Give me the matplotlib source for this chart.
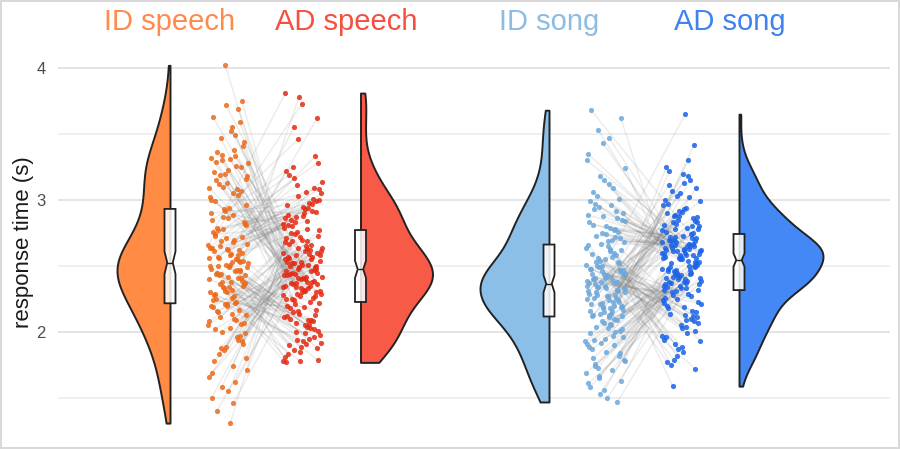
import numpy as np
import matplotlib
matplotlib.use('Agg')
import matplotlib.pyplot as plt

plt.rcParams['font.family'] = ['Liberation Sans', 'DejaVu Sans']

# response times (s), one value per participant; ID[i] is paired with AD[i]
id_speech = [
    2.05, 1.74, 2.16, 1.93, 2.20, 1.50, 2.09, 1.88, 2.13, 1.31,
    2.02, 1.97, 2.21, 1.66, 2.10, 1.83, 2.07, 1.55, 2.19, 1.94,
    2.00, 1.71, 2.14, 1.40, 2.06, 1.89, 2.20, 1.62, 2.11, 1.99,
    2.03, 1.78, 2.17, 1.86, 2.08, 1.46, 2.15, 1.91, 2.21, 1.69,
    1.96, 1.58, 1.80,
    2.38, 2.25, 2.47, 2.31, 2.50, 2.22, 2.43, 2.36, 2.49, 2.28,
    2.41, 2.34, 2.52, 2.26, 2.45, 2.39, 2.30, 2.48, 2.23, 2.44,
    2.37, 2.51, 2.29, 2.46, 2.33, 2.40, 2.27, 2.50, 2.35, 2.42,
    2.24, 2.47, 2.38, 2.49, 2.32, 2.44, 2.41, 2.51, 2.30, 2.46,
    2.36, 2.43, 2.34,
    2.61, 2.54, 2.78, 2.66, 2.89, 2.57, 2.72, 2.63, 2.85, 2.55,
    2.69, 2.81, 2.59, 2.74, 2.53, 2.92, 2.64, 2.70, 2.56, 2.83,
    2.62, 2.76, 2.58, 2.87, 2.67, 2.53, 2.79, 2.60, 2.71, 2.90,
    2.55, 2.65, 2.82, 2.58, 2.73, 2.62, 2.93, 2.56, 2.68, 2.77,
    2.54, 2.86, 2.64,
    3.08, 3.30, 2.96, 3.52, 3.15, 3.25, 4.02, 3.02, 3.33, 3.19,
    3.44, 2.94, 3.21, 3.69, 3.10, 3.28, 3.05, 3.36, 3.75, 3.13,
    3.00, 3.26, 3.47, 3.16, 3.31, 2.99, 3.59, 3.20, 3.09, 3.38,
    3.12, 3.41, 3.23, 3.63, 3.04, 3.34, 3.18, 3.55, 3.29, 3.07,
    3.72, 3.32, 3.49,
]
ad_speech = [
    2.52, 2.68, 2.49, 2.61, 2.74, 2.55, 2.48, 2.65, 2.58, 2.71,
    2.50, 2.63, 2.76, 2.53, 2.60, 2.69, 2.48, 2.57, 2.73, 2.51,
    2.64, 2.56, 2.77, 2.59, 2.49, 2.67, 2.54, 2.62, 2.72, 2.50,
    2.58, 2.66, 2.53, 2.75, 2.61, 2.55, 2.70, 2.52, 2.64, 2.57,
    2.51, 2.69, 2.60,
    2.08, 1.93, 2.15, 1.78, 2.02, 2.19, 1.86, 2.11, 1.96, 2.05,
    2.21, 1.81, 2.13, 1.99, 2.00, 1.77, 2.17, 1.91, 2.07, 2.12,
    1.88, 2.04, 1.94, 2.20, 1.79, 2.09, 2.16, 1.83, 2.01, 1.95,
    2.14, 1.90, 2.22, 2.06, 1.85, 2.18, 1.98, 2.03, 1.78, 2.10,
    1.92, 2.09, 1.89,
    2.85, 3.05, 2.92, 3.73, 2.80, 3.14, 2.97, 2.88, 3.25, 2.82,
    3.01, 2.95, 3.55, 2.79, 3.09, 2.90, 3.17, 2.86, 3.33, 2.93,
    2.83, 3.81, 2.99, 3.06, 2.87, 3.22, 2.91, 2.78, 3.11, 2.96,
    3.62, 2.84, 3.03, 2.89, 3.28, 2.94, 3.46, 2.81, 3.08, 2.98,
    3.78, 3.19, 3.00,
    2.35, 2.27, 2.44, 2.31, 2.23, 2.40, 2.37, 2.29, 2.46, 2.33,
    2.25, 2.42, 2.38, 2.30, 2.45, 2.34, 2.26, 2.41, 2.36, 2.28,
    2.47, 2.32, 2.24, 2.43, 2.39, 2.31, 2.44, 2.35, 2.27, 2.40,
    2.37, 2.46, 2.30, 2.42, 2.34, 2.25, 2.45, 2.38, 2.29, 2.43,
    2.36, 2.33, 2.41,
]
id_song = [
    1.93, 2.06, 1.74, 2.01, 1.56, 1.89, 2.10, 1.67, 1.96, 2.03,
    1.80, 1.47, 2.08, 1.91, 1.71, 2.04, 1.63, 1.85, 1.99, 2.00,
    1.53, 1.78, 2.11, 1.94, 1.82, 2.07, 1.61, 1.97, 1.73, 2.02,
    1.50, 1.87, 2.09, 1.92, 1.69, 2.05, 1.76, 1.84, 1.95, 1.58,
    1.90, 1.65, 1.79,
    2.24, 2.13, 2.31, 2.19, 2.35, 2.16, 2.28, 2.12, 2.33, 2.21,
    2.26, 2.14, 2.30, 2.18, 2.36, 2.23, 2.15, 2.29, 2.20, 2.34,
    2.17, 2.27, 2.12, 2.32, 2.22, 2.25, 2.14, 2.30, 2.19, 2.35,
    2.16, 2.28, 2.21, 2.33, 2.13, 2.26, 2.24, 2.18, 2.31, 2.23,
    2.34, 2.20, 2.27,
    2.44, 2.58, 2.38, 2.51, 2.63, 2.41, 2.47, 2.55, 2.37, 2.60,
    2.49, 2.43, 2.65, 2.40, 2.53, 2.46, 2.39, 2.57, 2.50, 2.62,
    2.42, 2.48, 2.37, 2.54, 2.45, 2.61, 2.40, 2.52, 2.44, 2.66,
    2.39, 2.56, 2.47, 2.43, 2.59, 2.38, 2.50, 2.64, 2.42, 2.53,
    2.46, 2.41, 2.48,
    2.72, 2.95, 2.68, 3.12, 2.81, 2.76, 3.43, 2.89, 2.70, 3.03,
    2.85, 2.74, 3.68, 2.92, 2.67, 3.24, 2.79, 2.97, 2.71, 3.15,
    2.83, 2.77, 3.53, 2.90, 2.69, 3.06, 2.86, 2.75, 3.30, 2.96,
    2.73, 3.62, 2.80, 2.99, 2.78, 3.18, 2.84, 3.47, 2.93, 3.01,
    2.88, 3.35, 3.09,
]
ad_song = [
    2.42, 2.35, 2.50, 2.38, 2.46, 2.32, 2.53, 2.40, 2.44, 2.36,
    2.49, 2.33, 2.47, 2.41, 2.52, 2.37, 2.45, 2.34, 2.51, 2.39,
    2.43, 2.48, 2.32, 2.54, 2.40, 2.46, 2.36, 2.50, 2.42, 2.38,
    2.53, 2.44, 2.35, 2.49, 2.41, 2.47, 2.33, 2.52, 2.39, 2.45,
    2.43, 2.37, 2.48,
    2.80, 2.91, 3.07, 2.77, 2.86, 3.20, 2.83, 2.96, 2.75, 3.13,
    2.88, 2.81, 3.42, 2.93, 2.78, 3.00, 2.84, 3.65, 2.89, 2.76,
    3.09, 2.94, 2.82, 3.25, 2.87, 2.79, 3.03, 2.90, 2.83, 3.18,
    2.85, 2.97, 2.78, 3.30, 2.88, 3.11, 2.80, 3.02, 2.92, 3.22,
    2.99, 3.15, 3.05,
    2.14, 1.93, 2.27, 2.05, 1.75, 2.21, 2.10, 1.89, 2.30, 1.97,
    2.16, 2.03, 1.59, 2.24, 2.12, 1.85, 2.28, 1.94, 2.08, 2.19,
    1.79, 2.22, 2.01, 2.13, 1.91, 2.26, 1.72, 2.09, 2.31, 1.96,
    2.15, 2.04, 1.82, 2.20, 2.11, 1.99, 2.25, 1.77, 2.07, 2.29,
    1.87, 2.18, 2.23,
    2.63, 2.56, 2.70, 2.59, 2.67, 2.55, 2.72, 2.61, 2.65, 2.58,
    2.69, 2.62, 2.74, 2.57, 2.66, 2.60, 2.71, 2.55, 2.64, 2.68,
    2.58, 2.73, 2.61, 2.56, 2.67, 2.63, 2.70, 2.59, 2.65, 2.62,
    2.72, 2.57, 2.69, 2.60, 2.66, 2.64, 2.71, 2.58, 2.68, 2.62,
    2.56, 2.65, 2.61,
]

labels = ['ID speech', 'AD speech', 'ID song', 'AD song']
fill_colors = ['#FF8B45', '#F85A48', '#8BBFE8', '#4388F5']
point_colors = ['#EC6A1C', '#E42A12', '#6CA8DA', '#1A63E8']
label_colors = ['#FF8A4C', '#F5503F', '#8CBCE4', '#3F82F2']

# layout (x in pixel-like units)
violin_x = [170, 360.5, 549, 739]
violin_half = [53, 72, 69, 84]
violin_side = ['low', 'high', 'low', 'high']
point_x = [228, 302.5, 605.5, 681.5]
label_x = [170, 346, 549, 730]

data = [id_speech, ad_speech, id_song, ad_song]


def nrd0_factor(kde):
    # ggplot-like bandwidth (Silverman's rule of thumb), as a factor of sd
    d = kde.dataset.ravel()
    sd = d.std(ddof=1)
    iqr = np.subtract(*np.percentile(d, [75, 25]))
    return 0.9 * min(sd, iqr / 1.34) / sd * len(d) ** -0.2


fig = plt.figure(figsize=(9, 4.49), dpi=100)
fig.patch.set_edgecolor('#d9d9d9')
fig.patch.set_linewidth(1.5)
ax = fig.add_axes([58 / 900, 9 / 449, 832 / 900, 395 / 449])

# gridlines
for g in [1.5, 2.5, 3.5]:
    ax.axhline(g, color='#ebebeb', lw=1.1, zorder=0)
for g in [2, 3, 4]:
    ax.axhline(g, color='#e3e3e3', lw=1.3, zorder=0)

# paired lines
for (a, b) in [(0, 1), (2, 3)]:
    n = len(data[a])
    ja = ((np.arange(n) * 0.618034) % 1 - 0.5) * 40
    jb = ((np.arange(n) * 0.754878 + 0.3) % 1 - 0.5) * 40
    for i in range(n):
        ax.plot([point_x[a] + ja[i], point_x[b] + jb[i]],
                [data[a][i], data[b][i]], color='#7a7a7a', alpha=0.15,
                lw=1.0, zorder=1)
    ax.scatter(point_x[a] + ja, data[a], s=14, color=point_colors[a],
               alpha=0.85, lw=0, zorder=3)
    ax.scatter(point_x[b] + jb, data[b], s=14, color=point_colors[b],
               alpha=0.85, lw=0, zorder=3)

# half violins + notched boxes
for k in range(4):
    vp = ax.violinplot([data[k]], positions=[violin_x[k]],
                       widths=2 * violin_half[k], showextrema=False,
                       side=violin_side[k], bw_method=nrd0_factor,
                       points=200)
    body = vp['bodies'][0]
    body.set_facecolor(fill_colors[k])
    body.set_edgecolor('#222222')
    body.set_linewidth(1.4)
    body.set_alpha(1)
    body.set_zorder(2)

    ax.boxplot([data[k]], positions=[violin_x[k]], widths=11, notch=True,
               patch_artist=True, showfliers=False, showcaps=False,
               whiskerprops=dict(linewidth=0),
               boxprops=dict(facecolor=(1, 1, 1, 0.85), edgecolor='#222222',
                             linewidth=1.3),
               medianprops=dict(color='#222222', linewidth=1.0),
               zorder=4)

    ax.text(label_x[k], 4.35, labels[k], color=label_colors[k],
            fontsize=21, ha='center', va='center', clip_on=False)

ax.set_xlim(58, 890)
ax.set_ylim(1.182, 4.174)
ax.set_yticks([2, 3, 4])
ax.set_yticklabels(['2', '3', '4'])
ax.set_xticks([])
ax.tick_params(axis='y', length=0, pad=9, labelsize=12, labelcolor='#4d4d4d')
for s in ax.spines.values():
    s.set_visible(False)
ax.set_ylabel('response time (s)', fontsize=16, color='#1a1a1a')
ax.yaxis.set_label_coords(-0.029, 0.5)

fig.savefig('out.png', dpi=100)
